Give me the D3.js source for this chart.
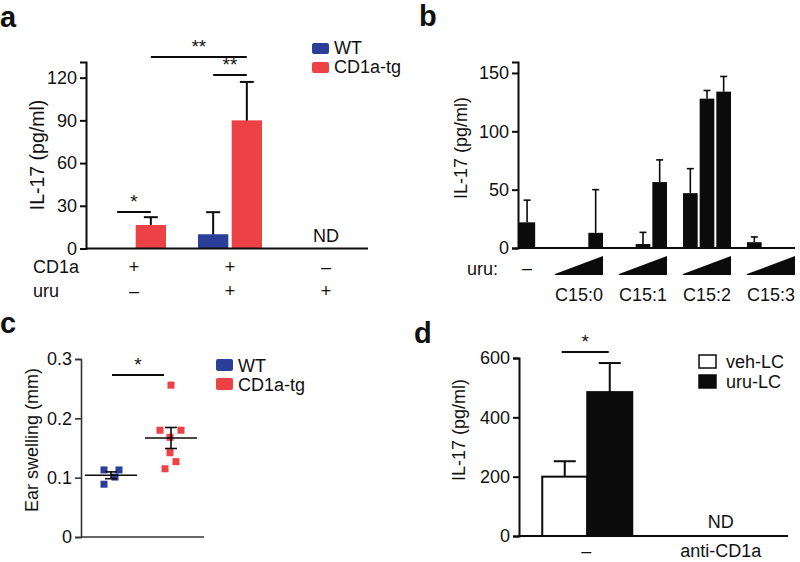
<!DOCTYPE html>
<html><head><meta charset="utf-8">
<script src="https://cdn.jsdelivr.net/npm/d3@7/dist/d3.min.js"></script>
<style>
html,body{margin:0;padding:0;background:#fff;}
svg text{font-family:'Liberation Sans',Arial,Helvetica,sans-serif;fill:#111;}
</style></head>
<body>
<svg id="chart" width="800" height="562"></svg>
<script>
// ---------- DATA ----------
// Panel a
const aGroups = ["g1", "g2", "g3"];
const aSeries = ["WT", "CD1a-tg"];
const aWT = [0, 10, null];
const aWTerr = [0, 15.5, null];
const aTG = [16.5, 90, null];
const aTGerr = [5.5, 27, null];
const aRowCD1a = ["+", "+", "\u2013"];
const aRowUru = ["\u2013", "+", "+"];
const aTicks = [0, 30, 60, 90, 120];
// Panel b
const bControl = 22;
const bControlErr = 19;
const bGroups = ["C15:0", "C15:1", "C15:2", "C15:3"];
const bDoses = ["low", "mid", "high"];
const bValues = [[0, 0, 13], [0, 3.4, 56.5], [47, 128, 134], [5, 0, 0]];
const bErrors = [[0, 0, 37], [0, 10, 19], [21, 7, 13], [4.5, 0, 0]];
const bTicks = [0, 50, 100, 150];
// Panel c
const cWT = [0.113, 0.113, 0.101, 0.089];
const cTG = [0.256, 0.18, 0.18, 0.168, 0.142, 0.127, 0.115];
const cTicks = [0, 0.1, 0.2, 0.3];
const cTickLabels = ["0", "0.1", "0.2", "0.3"];
// Panel d
const dGroups = ["\u2013", "anti-CD1a"];
const dSeries = ["veh-LC", "uru-LC"];
const dVeh = [200, null];
const dVehErr = [52, null];
const dUru = [485, null];
const dUruErr = [98, null];
const dTicks = [0, 200, 400, 600];

// ---------- STYLE ----------
const BLUE = "#2c3f98", RED = "#ec4145", BLACK = "#0b0b0b";
const FS = 18;
const svg = d3.select("#chart");

function panelLetter(t, x, y) {
  svg.append("text").attr("x", x).attr("y", y).attr("font-size", 29)
    .attr("font-weight", "bold").text(t);
}
function yAxis(g, scale, ticks, fmt, x, sw, color) {
  const ax = g.append("g").attr("transform", `translate(${x},0)`)
    .call(d3.axisLeft(scale).tickValues(ticks).tickSizeOuter(0).tickSize(6).tickPadding(3)
      .tickFormat(fmt));
  ax.select(".domain").attr("stroke", color).attr("stroke-width", sw);
  ax.selectAll(".tick line").attr("stroke", color).attr("stroke-width", sw);
  ax.selectAll(".tick text").attr("font-size", FS).attr("fill", "#111")
    .attr("font-family", "'Liberation Sans',Arial,sans-serif");
  return ax;
}
function yLabel(g, text, x, y, fs) {
  g.append("text").attr("transform", `translate(${x},${y}) rotate(-90)`)
    .attr("text-anchor", "middle").attr("font-size", fs || FS).text(text);
}
function errBar(g, cx, yTop, yBase, cap, sw) {
  g.append("line").attr("x1", cx).attr("x2", cx).attr("y1", yBase).attr("y2", yTop)
    .attr("stroke", BLACK).attr("stroke-width", sw);
  g.append("line").attr("x1", cx - cap / 2).attr("x2", cx + cap / 2).attr("y1", yTop).attr("y2", yTop)
    .attr("stroke", BLACK).attr("stroke-width", sw);
}
function sigLine(g, x1, x2, y, label) {
  g.append("line").attr("x1", x1).attr("x2", x2).attr("y1", y).attr("y2", y)
    .attr("stroke", BLACK).attr("stroke-width", 2);
  g.append("text").attr("x", (x1 + x2) / 2).attr("y", y - 4).attr("text-anchor", "middle")
    .attr("font-size", 19).text(label);
}

// ---------- PANEL A ----------
(function () {
  const g = svg.append("g");
  panelLetter("a", 0, 27);
  const y = d3.scaleLinear().domain([0, 131]).range([248.5, 62]);
  const x = d3.scaleBand().domain(aGroups).range([86, 374]);
  const xi = d3.scaleBand().domain(aSeries).range([-32, 32]).paddingInner(0.1);
  const cx = gi => x(aGroups[gi]) + x.bandwidth() / 2;
  const series = [{ s: "WT", v: aWT, e: aWTerr, c: BLUE }, { s: "CD1a-tg", v: aTG, e: aTGerr, c: RED }];
  series.forEach(sr => {
    aGroups.forEach((gr, i) => {
      const v = sr.v[i];
      if (v == null || v <= 0) return;
      const bx = cx(i) + xi(sr.s);
      const top = y(v + sr.e[i]);
      errBar(g, bx + xi.bandwidth() / 2, top, y(v) + 1, 14, 2);
      g.append("rect").attr("x", bx).attr("y", y(v)).attr("width", xi.bandwidth())
        .attr("height", y(0) - y(v)).attr("fill", sr.c);
    });
  });
  yAxis(g, y, aTicks, d3.format("d"), 86, 2, BLACK);
  g.append("line").attr("x1", 86).attr("x2", 368).attr("y1", y(0)).attr("y2", y(0))
    .attr("stroke", BLACK).attr("stroke-width", 2);
  yLabel(g, "IL-17 (pg/ml)", 44, 155, 19.5);
  // ND
  g.append("text").attr("x", cx(2)).attr("y", 242).attr("text-anchor", "middle").attr("font-size", FS).text("ND");
  // rows
  g.append("text").attr("x", 33).attr("y", 273).attr("font-size", FS).text("CD1a");
  g.append("text").attr("x", 33).attr("y", 297).attr("font-size", FS).text("uru");
  aRowCD1a.forEach((t, i) => g.append("text").attr("x", cx(i)).attr("y", 273).attr("text-anchor", "middle").attr("font-size", FS).text(t));
  aRowUru.forEach((t, i) => g.append("text").attr("x", cx(i)).attr("y", 297).attr("text-anchor", "middle").attr("font-size", FS).text(t));
  // significance
  const bc = (s, i) => cx(i) + xi(s) + xi.bandwidth() / 2;
  sigLine(g, bc("WT", 0), bc("CD1a-tg", 0), 212, "*");
  sigLine(g, bc("CD1a-tg", 0), bc("CD1a-tg", 1), 57, "**");
  sigLine(g, bc("WT", 1), bc("CD1a-tg", 1), 75, "**");
  // legend
  const leg = g.append("g").attr("transform", "translate(312,43)");
  aSeries.forEach((s, i) => {
    leg.append("rect").attr("x", 0).attr("y", i * 19).attr("width", 17).attr("height", 11).attr("rx", 2)
      .attr("fill", i === 0 ? BLUE : RED);
    leg.append("text").attr("x", 22).attr("y", i * 19 + 11).attr("font-size", FS).text(s);
  });
})();

// ---------- PANEL B ----------
(function () {
  const g = svg.append("g");
  panelLetter("b", 419, 26);
  const y = d3.scaleLinear().domain([0, 159.4]).range([248, 62]);
  const x = d3.scaleBand().domain(bGroups).range([547, 803]).paddingInner(0.25).paddingOuter(0.125);
  const xi = d3.scaleBand().domain(bDoses).range([0, x.bandwidth()]).paddingInner(0.12);
  // control bar
  const c0 = 519, cw = xi.bandwidth() + 1.5;
  errBar(g, c0 + cw / 2, y(bControl + bControlErr), y(bControl), 7, 1.6);
  g.append("rect").attr("x", c0).attr("y", y(bControl)).attr("width", cw)
    .attr("height", y(0) - y(bControl)).attr("fill", BLACK);
  bGroups.forEach((gr, gi) => {
    bDoses.forEach((d, di) => {
      const v = bValues[gi][di];
      if (v <= 0) return;
      const bx = x(gr) + xi(d);
      errBar(g, bx + xi.bandwidth() / 2, y(v + bErrors[gi][di]), y(v), 7, 1.6);
      g.append("rect").attr("x", bx).attr("y", y(v)).attr("width", xi.bandwidth())
        .attr("height", y(0) - y(v)).attr("fill", BLACK);
    });
    // wedge
    const x0 = x(gr), x1 = x(gr) + x.bandwidth();
    g.append("path").attr("d", `M${x0},274 L${x1},256 L${x1},275 L${x0},275 Z`).attr("fill", BLACK);
    g.append("text").attr("x", (x0 + x1) / 2).attr("y", 301).attr("text-anchor", "middle")
      .attr("font-size", FS).text(gr);
  });
  yAxis(g, y, bTicks, d3.format("d"), 518, 2, BLACK);
  g.append("line").attr("x1", 518).attr("x2", 795).attr("y1", y(0)).attr("y2", y(0))
    .attr("stroke", BLACK).attr("stroke-width", 2);
  yLabel(g, "IL-17 (pg/ml)", 467, 148);
  g.append("text").attr("x", 467).attr("y", 275).attr("font-size", FS).text("uru:");
  g.append("text").attr("x", c0 + cw / 2).attr("y", 274).attr("text-anchor", "middle").attr("font-size", FS).text("\u2013");
})();

// ---------- PANEL C ----------
(function () {
  const g = svg.append("g");
  panelLetter("c", 0, 333);
  const y = d3.scaleLinear().domain([0, 0.3]).range([537, 359]);
  const x = d3.scaleBand().domain(["WT", "CD1a-tg"]).range([81, 201]).paddingInner(0.1).paddingOuter(0.05);
  const jWT = [-7, 8, 4, -7];
  const jTG = [0, -11, 10, -1, -1, 5, -6];
  const groups = [{ s: "WT", v: cWT, j: jWT, c: BLUE }, { s: "CD1a-tg", v: cTG, j: jTG, c: RED }];
  const AX = "#333";
  groups.forEach(gr => {
    const cx = x(gr.s) + x.bandwidth() / 2;
    gr.v.forEach((v, i) => {
      g.append("rect").attr("x", cx + gr.j[i] - 3.5).attr("y", y(v) - 3.5).attr("width", 7).attr("height", 7)
        .attr("fill", gr.c);
    });
    const m = d3.mean(gr.v), sem = d3.deviation(gr.v) / Math.sqrt(gr.v.length);
    g.append("line").attr("x1", cx - 26).attr("x2", cx + 26).attr("y1", y(m)).attr("y2", y(m))
      .attr("stroke", BLACK).attr("stroke-width", 1.6);
    g.append("line").attr("x1", cx).attr("x2", cx).attr("y1", y(m + sem)).attr("y2", y(m - sem))
      .attr("stroke", BLACK).attr("stroke-width", 1.6);
    [m + sem, m - sem].forEach(vv => g.append("line").attr("x1", cx - 6).attr("x2", cx + 6)
      .attr("y1", y(vv)).attr("y2", y(vv)).attr("stroke", BLACK).attr("stroke-width", 1.6));
  });
  yAxis(g, y, cTicks, (d, i) => cTickLabels[i], 81, 1.6, AX);
  g.append("line").attr("x1", 81).attr("x2", 204).attr("y1", y(0)).attr("y2", y(0))
    .attr("stroke", AX).attr("stroke-width", 1.6);
  yLabel(g, "Ear swelling (mm)", 38, 440);
  sigLine(g, 112, 164, 375, "*");
  const leg = g.append("g").attr("transform", "translate(216,359)");
  ["WT", "CD1a-tg"].forEach((s, i) => {
    leg.append("rect").attr("x", 0).attr("y", i * 19).attr("width", 17).attr("height", 12).attr("rx", 2)
      .attr("fill", i === 0 ? BLUE : RED);
    leg.append("text").attr("x", 22).attr("y", i * 19 + 13).attr("font-size", FS).text(s);
  });
})();

// ---------- PANEL D ----------
(function () {
  const g = svg.append("g");
  panelLetter("d", 414, 343);
  const y = d3.scaleLinear().domain([0, 600]).range([536, 358]);
  const x = d3.scaleBand().domain(dGroups).range([519, 788]);
  const xi = d3.scaleBand().domain(dSeries).range([-44, 46]);
  const cx = i => x(dGroups[i]) + x.bandwidth() / 2;
  const series = [{ s: "veh-LC", v: dVeh, e: dVehErr, fill: "#fff" }, { s: "uru-LC", v: dUru, e: dUruErr, fill: BLACK }];
  series.forEach(sr => {
    dGroups.forEach((gr, i) => {
      const v = sr.v[i];
      if (v == null) return;
      const bx = cx(i) + xi(sr.s);
      errBar(g, bx + xi.bandwidth() / 2, y(v + sr.e[i]), y(v), 22, 2);
      g.append("rect").attr("x", bx).attr("y", y(v)).attr("width", xi.bandwidth())
        .attr("height", y(0) - y(v)).attr("fill", sr.fill).attr("stroke", BLACK).attr("stroke-width", 2);
    });
  });
  yAxis(g, y, dTicks, d3.format("d"), 519, 2, BLACK);
  g.append("line").attr("x1", 519).attr("x2", 788).attr("y1", y(0)).attr("y2", y(0))
    .attr("stroke", BLACK).attr("stroke-width", 2);
  yLabel(g, "IL-17 (pg/ml)", 465, 430);
  g.append("text").attr("x", cx(1)).attr("y", 528).attr("text-anchor", "middle").attr("font-size", FS).text("ND");
  dGroups.forEach((t, i) => g.append("text").attr("x", cx(i)).attr("y", 557).attr("text-anchor", "middle")
    .attr("font-size", FS).text(t));
  const b1 = cx(0) + xi("veh-LC") + xi.bandwidth() / 2, b2 = cx(0) + xi("uru-LC") + xi.bandwidth() / 2;
  sigLine(g, b1 - 3, b2 - 1, 352, "*");
  const leg = g.append("g").attr("transform", "translate(699,355)");
  dSeries.forEach((s, i) => {
    leg.append("rect").attr("x", 0).attr("y", i * 20).attr("width", 17).attr("height", 13)
      .attr("fill", i === 0 ? "#fff" : BLACK).attr("stroke", BLACK).attr("stroke-width", 1.5);
    leg.append("text").attr("x", 27).attr("y", i * 20 + 13).attr("font-size", FS).text(s);
  });
})();
</script>
</body></html>
